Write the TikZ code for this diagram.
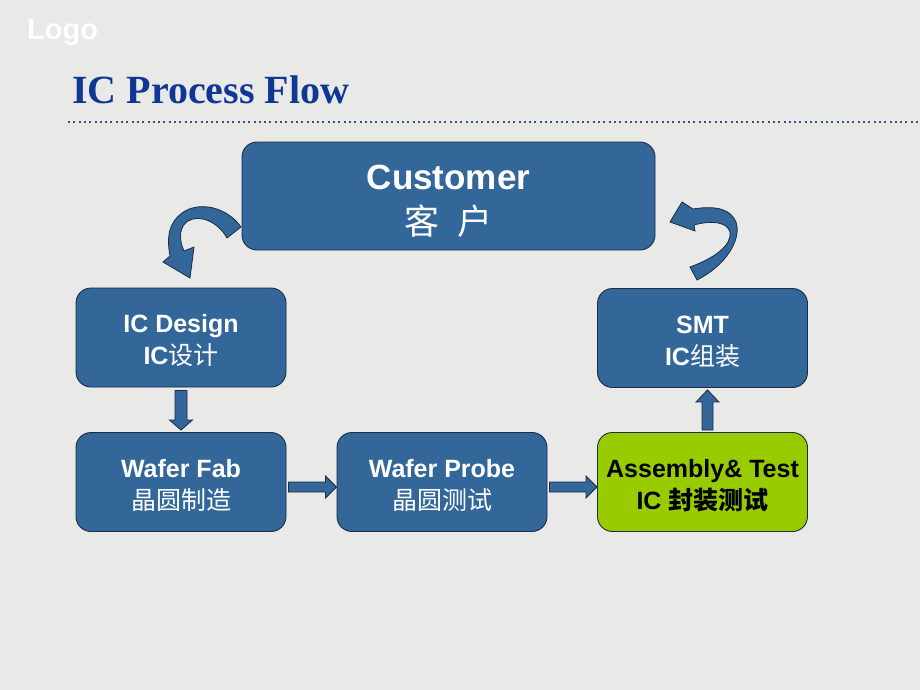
\documentclass[tikz,border=0pt]{standalone}
\usepackage{fontspec}
\setmainfont{Liberation Sans}
\newfontfamily\serifb{Liberation Serif}
\newfontfamily\cjk{Noto Sans CJK SC}
\usetikzlibrary{calc}
\definecolor{bg}{RGB}{233,233,231}
\definecolor{boxblue}{RGB}{51,102,153}
\definecolor{edge}{RGB}{28,45,70}
\definecolor{lime}{RGB}{153,204,0}
\definecolor{titleblue}{RGB}{14,56,148}
\definecolor{dotblue}{RGB}{45,80,150}
\begin{document}
\begin{tikzpicture}[x=1pt,y=-1pt,
  box/.style={draw=edge, line width=0.9pt, fill=boxblue, rounded corners=15pt,
    minimum width=210pt, minimum height=99pt, align=center, text=white, inner sep=0pt,
    font=\fontsize{25}{32}\selectfont\bfseries},
  greenbox/.style={box, fill=lime, text=black},
  blockarrow/.style={fill=boxblue, draw=edge, line width=0.8pt, line join=miter},
  zh/.style={}]
\fill[bg] (0,0) rectangle (920,690);
\useasboundingbox (0,0) rectangle (920,690);

% logo and title
\node[anchor=base west, inner sep=0pt, text=white, font=\fontsize{29}{30}\selectfont\bfseries] (logo) at (27,40) {Logo};
\node[anchor=base west, inner sep=0pt, text=titleblue, font=\serifb\fontsize{40}{44}\selectfont\bfseries] (title) at (72,104) {IC Process Flow};
\coordinate (dl) at (68,122);
\coordinate (dr) at (920,122);
\draw[dotblue, line width=2pt, dash pattern=on 2pt off 3.3pt] (dl) -- (dr);

% boxes
\node[box, minimum width=413pt, minimum height=108pt, font=\fontsize{35}{45}\selectfont\bfseries] (cust) at (448.5,196)
  {\rule{0pt}{35pt}Customer\\{\cjk\mdseries 客\hspace{18pt}户}};
\node[box] (design) at (181,337.5) {\rule{0pt}{25pt}IC Design\\IC{\cjk\mdseries 设计}};
\node[box] (smt) at (702.5,338) {\rule{0pt}{25pt}SMT\\IC{\cjk\mdseries 组装}};
\node[box] (fab) at (181,482) {\rule{0pt}{25pt}Wafer Fab\\{\cjk\mdseries 晶圆制造}};
\node[box] (probe) at (442,482) {\rule{0pt}{25pt}Wafer Probe\\{\cjk\mdseries 晶圆测试}};
\node[greenbox] (asm) at (702.5,482) {\rule{0pt}{25pt}Assembly\& Test\\IC {\cjk 封装测试}};

% straight block arrows
\draw[blockarrow] ($(design.south)+(-6,3)$) -- ($(fab.north)+(-6,-12)$) -- ($(fab.north)+(-11.5,-12)$)
  -- ($(fab.north)+(0,-2)$) -- ($(fab.north)+(11.5,-12)$) -- ($(fab.north)+(6,-12)$) -- ($(design.south)+(6,3)$) -- cycle;
\draw[blockarrow] ($(fab.east)+(2,0)$) -- ($(probe.west)+(-11,0)$) -- ($(probe.west)+(-11,-6)$)
  -- ($(probe.west)+(0,5)$) -- ($(probe.west)+(-11,16)$) -- ($(probe.west)+(-11,10)$) -- ($(fab.east)+(2,10)$) -- cycle;
\draw[blockarrow] ($(probe.east)+(2,0)$) -- ($(asm.west)+(-11,0)$) -- ($(asm.west)+(-11,-6)$)
  -- ($(asm.west)+(0,5)$) -- ($(asm.west)+(-11,16)$) -- ($(asm.west)+(-11,10)$) -- ($(probe.east)+(2,10)$) -- cycle;
\draw[blockarrow] ($(asm.north)+(-0.5,-2)$) -- ($(smt.south)+(-0.5,14)$) -- ($(smt.south)+(-6.5,14)$)
  -- ($(smt.south)+(5,2)$) -- ($(smt.south)+(16.5,14)$) -- ($(smt.south)+(10.5,14)$) -- ($(asm.north)+(10.5,-2)$) -- cycle;

% curved block arrows
\draw[blockarrow] (241,227) .. controls (228,208) and (200,200) .. (182,213)
  .. controls (170,222) and (166,235) .. (170,256)
  -- (163,262) -- (190,278) -- (194,247) -- (184,251)
  .. controls (178,238) and (180,226) .. (188,221)
  .. controls (200,214) and (218,222) .. (227,238) -- cycle;
\draw[blockarrow] (697,280) .. controls (725,266) and (742,240) .. (736,222)
  .. controls (731,210) and (718,205) .. (693,209)
  -- (682,202) -- (670,222) -- (695,231) -- (694,225)
  .. controls (712,220) and (727,222) .. (730,232)
  .. controls (732,245) and (715,258) .. (690,267) -- cycle;
\end{tikzpicture}
\end{document}
